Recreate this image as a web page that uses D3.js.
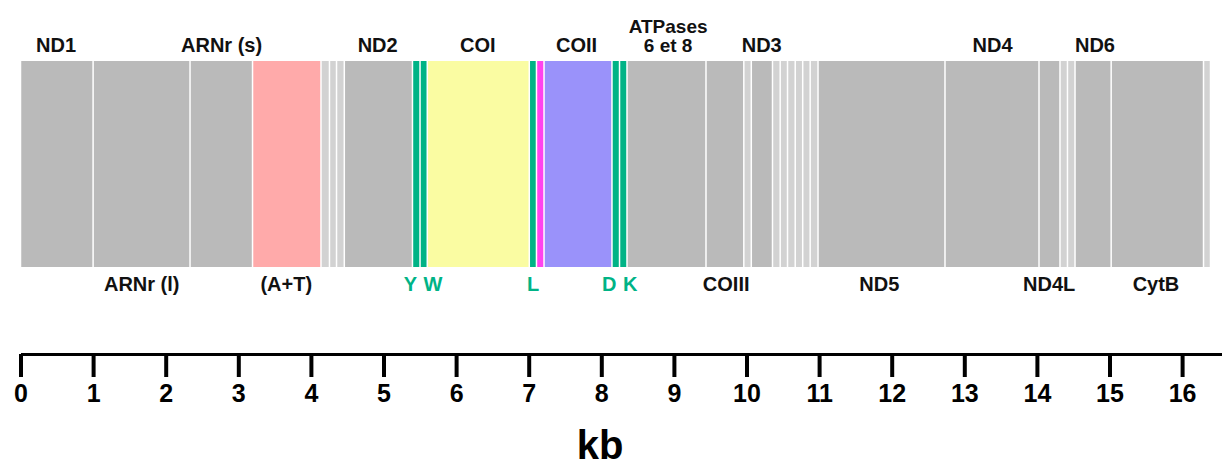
<!DOCTYPE html>
<html>
<head>
<meta charset="utf-8">
<script src="https://cdn.jsdelivr.net/npm/d3@7"></script>
<style>
  body { margin: 0; background: #fff; }
  text { font-family: "Liberation Sans", Arial, sans-serif; font-weight: bold; }
</style>
</head>
<body>
<div id="chart"></div>
<script>
// Data: segment boundaries along the genome (kb) and the kind of each segment
const boundaries = [0, 1.00, 2.335, 3.196, 4.139, 4.256, 4.353, 4.460, 5.399, 5.503, 5.603,
  7.008, 7.107, 7.211, 8.147, 8.251, 8.354, 9.442, 9.963, 10.066, 10.358, 10.464, 10.565,
  10.671, 10.774, 10.877, 10.985, 12.734, 14.029, 14.318, 14.421, 14.525, 15.023, 16.295, 16.391]
const kinds = ['gene', 'gene', 'gene', 'AT', 'trna', 'trna', 'trna', 'gene', 'trnaL', 'trnaL',
  'COI', 'trnaL', 'mag', 'COII', 'trnaL', 'trnaL', 'gene', 'gene', 'trna', 'gene',
  'trna', 'trna', 'trna', 'trna', 'trna', 'trna', 'gene', 'gene', 'gene', 'trna', 'trna',
  'gene', 'gene', 'trna']

const topLabels = ['ND1', 'ARNr (s)', 'ND2', 'COI', 'COII', 'ATPases|6 et 8', 'ND3', 'ND4', 'ND6']
const topPos = [0.49, 2.77, 4.92, 6.30, 7.66, 8.92, 10.21, 13.39, 14.80]
const bottomLabels = ['ARNr (l)', '(A+T)', 'Y', 'W', 'L', 'D', 'K', 'COIII', 'ND5', 'ND4L', 'CytB']
const bottomPos = [1.67, 3.66, 5.37, 5.68, 7.06, 8.11, 8.40, 9.72, 11.83, 14.17, 15.64]
const greenLabels = ['Y', 'W', 'L', 'D', 'K']

const ticks = d3.range(0, 17)

const colors = {
  gene: '#bababa', trna: '#d2d2d2', trnaL: '#00b386', AT: '#ffaaaa',
  COI: '#fafca2', COII: '#9a92fa', mag: '#ff44ee'
}

// Dimensions
const dimensions = { width: 1222, height: 464, barTop: 61, barBottom: 267, axisY: 354 }

const svg = d3.select('#chart')
  .append('svg')
  .attr('width', dimensions.width)
  .attr('height', dimensions.height)

const xScale = d3.scaleLinear()
  .domain([0, 16.55])
  .range([20.5, 20.5 + 72.6 * 16.55])

// Segments
const segs = kinds.map((k, i) => ({ kind: k, x0: boundaries[i], x1: boundaries[i + 1] }))
const gap = 1.5

svg.append('g')
  .selectAll('rect')
  .data(segs)
  .join('rect')
  .attr('x', d => xScale(d.x0) + gap / 2)
  .attr('width', d => Math.max(0, xScale(d.x1) - xScale(d.x0) - gap))
  .attr('y', dimensions.barTop)
  .attr('height', dimensions.barBottom - dimensions.barTop)
  .attr('fill', d => colors[d.kind])

// Labels above
const topG = svg.append('g')
topLabels.forEach((lab, i) => {
  const lines = lab.split('|')
  const t = topG.append('text')
    .attr('x', xScale(topPos[i]))
    .attr('text-anchor', 'middle')
    .style('font-size', lines.length > 1 ? '19px' : '20px')
    .attr('fill', '#111')
  lines.forEach((ln, j) => {
    t.append('tspan')
      .attr('x', xScale(topPos[i]))
      .attr('y', 52 - (lines.length - 1 - j) * 19)
      .text(ln)
  })
})

// Labels below
svg.append('g')
  .selectAll('text')
  .data(bottomLabels)
  .join('text')
  .attr('x', (d, i) => xScale(bottomPos[i]))
  .attr('y', 291)
  .attr('text-anchor', 'middle')
  .style('font-size', '20px')
  .attr('fill', d => greenLabels.includes(d) ? '#00b386' : '#111')
  .text(d => d)

// Axis
const xAxis = d3.axisBottom(xScale)
  .tickValues(ticks)
  .tickSize(23)
  .tickSizeOuter(0)
  .tickPadding(7)
  .tickFormat(d3.format('d'))

const axisG = svg.append('g')
  .attr('transform', `translate(0, ${dimensions.axisY})`)
  .call(xAxis)

axisG.select('.domain')
  .attr('stroke', '#000')
  .attr('stroke-width', 3.2)
axisG.selectAll('.tick line')
  .attr('stroke', '#000')
  .attr('stroke-width', 4)
axisG.selectAll('.tick text')
  .attr('fill', '#000')
  .style('font-size', '25px')
  .style('font-family', '"Liberation Sans", Arial, sans-serif')
  .style('font-weight', 'bold')

svg.append('text')
  .attr('x', 600)
  .attr('y', 459)
  .attr('text-anchor', 'middle')
  .style('font-size', '40px')
  .attr('fill', '#000')
  .text('kb')
</script>
</body>
</html>
